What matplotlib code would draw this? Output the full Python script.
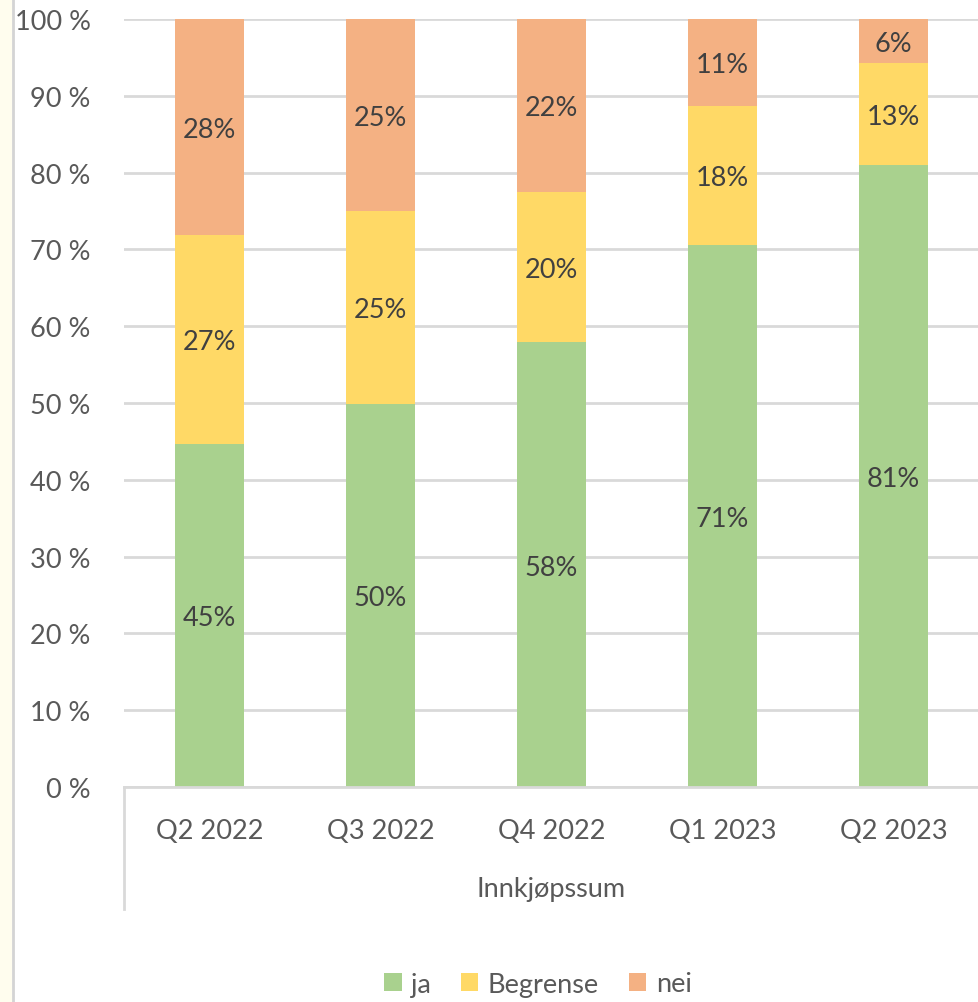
import numpy as np
import matplotlib.pyplot as plt
from matplotlib.patches import Rectangle
from matplotlib.lines import Line2D

# --- data (share of responses) ---
quarters = ["Q2 2022", "Q3 2022", "Q4 2022", "Q1 2023", "Q2 2023"]
ja       = [44.7, 49.9, 57.9, 70.6, 81.0]
begrense = [27.2, 25.1, 19.6, 18.1, 13.3]
nei      = [28.1, 25.0, 22.5, 11.3, 5.7]
series_names = ["ja", "Begrense", "nei"]
group_label = "Innkjøpssum"

colors = ["#A9D18E", "#FFD966", "#F4B183"]
text_col = "#404040"
tick_col = "#595959"
grid_col = "#D9D9D9"

plt.rcParams["font.family"] = ["Lato", "DejaVu Sans"]

fig = plt.figure(figsize=(9.79, 10.03), dpi=100, facecolor="white")
ax = fig.add_axes([124 / 979, 1 - 788 / 1003, 1 - 124 / 979, 768 / 1003])

# cream strip on the far left with a thin grey border
fig.patches.append(Rectangle((0, 0), 12 / 979, 1, transform=fig.transFigure,
                             facecolor="#FFFDEE", edgecolor="none", zorder=0))
fig.lines.append(Line2D([13.5 / 979, 13.5 / 979], [0, 1], transform=fig.transFigure,
                        color="#D4D4D4", linewidth=2))

x = np.arange(len(quarters))
bottom = np.zeros(len(quarters))
for name, vals, c in zip(series_names, [ja, begrense, nei], colors):
    vals = np.array(vals) / 100.0
    ax.bar(x, vals, width=0.4, bottom=bottom, color=c, label=name, zorder=2)
    for xi, b, v in zip(x, bottom, vals):
        ax.text(xi, b + v / 2, f"{v * 100:.0f}%", ha="center", va="center_baseline",
                fontsize=19.5, color=text_col, zorder=3)
    bottom += vals

ax.set_xlim(-0.5, len(quarters) - 0.5)
ax.set_ylim(0, 1)
yt = np.arange(0, 1.01, 0.1)
ax.set_yticks(yt)
ax.set_yticklabels([f"{int(round(t * 100))} %" for t in yt])
ax.yaxis.grid(True, color=grid_col, linewidth=2, zorder=0)
ax.set_axisbelow(True)
ax.tick_params(axis="y", length=0, pad=24, labelsize=19.5, labelcolor=tick_col)
ax.set_xticks(x)
ax.set_xticklabels(quarters)
ax.tick_params(axis="x", length=0, pad=22, labelsize=19.5, labelcolor=tick_col)

for s in ["top", "right", "left"]:
    ax.spines[s].set_visible(False)
ax.spines["bottom"].set_color(grid_col)
ax.spines["bottom"].set_linewidth(2)

# multi-level category axis separators and group label
ybot = -122 / 768
for xe in [0, 1]:
    ax.add_line(Line2D([xe, xe], [0, ybot], transform=ax.transAxes,
                       color=grid_col, linewidth=2, clip_on=False))
ax.text(0.5, -102 / 768, group_label, transform=ax.transAxes, ha="center",
        va="center", fontsize=19.5, color=tick_col)

fig.legend(loc="center", bbox_to_anchor=(538 / 979, 1 - 985 / 1003), ncol=3,
           frameon=False, fontsize=19.5, labelcolor=tick_col, handlelength=0.65,
           handleheight=0.65, handletextpad=0.35, columnspacing=1.1)

fig.savefig("out.png", dpi=100, facecolor="white")
